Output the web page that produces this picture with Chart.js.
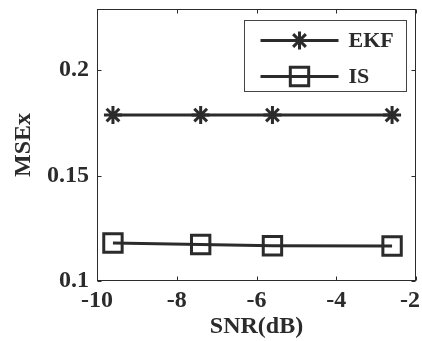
<!DOCTYPE html>
<html>
<head>
<meta charset="utf-8">
<script src="https://cdn.jsdelivr.net/npm/chart.js@4.4.1/dist/chart.umd.min.js"></script>
<style>
  html, body { margin: 0; padding: 0; background: #fff; }
  #wrap { width: 422px; height: 341px; }
</style>
</head>
<body>
<div id="wrap"><canvas id="mseChart"></canvas></div>
<script>
// values
const snr = [-9.6, -7.4, -5.6, -2.6];
const mseEKF = [0.1787, 0.1787, 0.1787, 0.1787];
const mseIS = [0.118, 0.1173, 0.1167, 0.1166];
const seriesLabels = ["EKF", "IS"];
const xTicks = [-10, -8, -6, -4, -2];
const yTicks = [0.1, 0.15, 0.2];

const ink = "#2b2b2b";
const serif = "'Liberation Serif', 'Times New Roman', serif";

function toPoints(xs, ys) {
  return xs.map((x, i) => ({ x: x, y: ys[i] }));
}

function drawMarker(ctx, style, x, y, r) {
  ctx.beginPath();
  if (style === "star") {
    ctx.moveTo(x, y - r); ctx.lineTo(x, y + r);
    ctx.moveTo(x - r, y); ctx.lineTo(x + r, y);
    const d = r * Math.SQRT1_2;
    ctx.moveTo(x - d, y - d); ctx.lineTo(x + d, y + d);
    ctx.moveTo(x - d, y + d); ctx.lineTo(x + d, y - d);
  } else {
    const s = r * Math.SQRT1_2;
    ctx.rect(x - s, y - s, 2 * s, 2 * s);
  }
  ctx.stroke();
}

// fixed axis size, and no extra room reserved for overhanging tick labels
function fixAxis(size, prop) {
  return (scale) => {
    scale[prop] = size;
    scale.paddingTop = 0;
    scale.paddingBottom = 0;
    scale.paddingLeft = 0;
    scale.paddingRight = 0;
  };
}

// box round the axes with inward tick marks on all four sides
const matlabFrame = {
  id: "matlabFrame",
  beforeDatasetsDraw(chart) {
    const { ctx, chartArea: a, scales } = chart;
    const L = Math.round(a.left) + 0.5, R = Math.round(a.right) - 0.5;
    const T = Math.round(a.top) + 0.5, B = Math.round(a.bottom) - 0.5;
    ctx.save();
    ctx.strokeStyle = ink;
    ctx.lineWidth = 1;
    ctx.strokeRect(L, T, R - L, B - T);
    ctx.beginPath();
    xTicks.forEach(v => {
      const px = Math.round(scales.x.getPixelForValue(v)) + 0.5;
      ctx.moveTo(px, B); ctx.lineTo(px, B - 4);
      ctx.moveTo(px, T); ctx.lineTo(px, T + 4);
    });
    yTicks.forEach(v => {
      const py = Math.round(scales.y.getPixelForValue(v)) + 0.5;
      ctx.moveTo(L, py); ctx.lineTo(L + 4, py);
      ctx.moveTo(R, py); ctx.lineTo(R - 4, py);
    });
    ctx.stroke();
    ctx.restore();
  }
};

// legend in the top right corner, line + marker like the original
const boxLegend = {
  id: "boxLegend",
  afterDatasetsDraw(chart) {
    const { ctx, chartArea: a } = chart;
    const w = 162, h = 71;
    const left = Math.round(a.right - 10 - w) + 0.5;
    const top = Math.round(a.top + 11) + 0.5;
    ctx.save();
    ctx.fillStyle = "#fff";
    ctx.fillRect(left, top, w, h);
    ctx.strokeStyle = "#444";
    ctx.lineWidth = 1;
    ctx.strokeRect(left, top, w, h);
    chart.data.datasets.forEach((ds, i) => {
      const y = top + 20 + i * 36;
      ctx.strokeStyle = ds.borderColor;
      ctx.lineWidth = 3;
      ctx.beginPath();
      ctx.moveTo(left + 16, y);
      ctx.lineTo(left + 94, y);
      ctx.stroke();
      drawMarker(ctx, ds.pointStyle, left + 55, y, ds.pointRadius);
      ctx.fillStyle = ink;
      ctx.font = "bold 22px " + serif;
      ctx.textBaseline = "middle";
      ctx.textAlign = "left";
      ctx.fillText(ds.label, left + 104, y + 1);
    });
    ctx.restore();
  }
};

const ctxMse = document.getElementById("mseChart").getContext("2d");
const mseChart = new Chart(ctxMse, {
  type: "line",
  data: {
    datasets: [
      {
        label: seriesLabels[0],
        data: toPoints(snr, mseEKF),
        borderColor: ink,
        borderWidth: 3,
        pointStyle: "star",
        pointRadius: 9,
        pointBorderWidth: 3,
        pointBorderColor: ink,
        pointBackgroundColor: "transparent",
      },
      {
        label: seriesLabels[1],
        data: toPoints(snr, mseIS),
        borderColor: ink,
        borderWidth: 3,
        pointStyle: "rect",
        pointRadius: 13,
        pointBorderWidth: 3,
        pointBorderColor: ink,
        pointBackgroundColor: "transparent",
      },
    ],
  },
  options: {
    responsive: true,
    maintainAspectRatio: false,
    animation: false,
    layout: { autoPadding: false, padding: { top: 9, right: 6, left: 0, bottom: 0 } },
    plugins: {
      legend: { display: false },
      tooltip: { enabled: false },
    },
    scales: {
      x: {
        type: "linear",
        min: -10,
        max: -2,
        afterBuildTicks: (scale) => { scale.ticks = xTicks.map(v => ({ value: v })); },
        afterFit: fixAxis(60, "height"),
        grid: { display: false, drawTicks: false },
        border: { display: false },
        ticks: {
          padding: 5,
          color: ink,
          font: { family: serif, size: 24, weight: "bold" },
          // last label would run off the canvas edge; pad it so it sits inside
          callback: (v) => (v === xTicks[xTicks.length - 1] ? v + "\u2002" : String(v)),
          maxRotation: 0,
        },
        title: {
          display: true,
          text: "SNR(dB)",
          color: ink,
          font: { family: serif, size: 24, weight: "bold" },
          padding: { top: 0, bottom: 0 },
        },
      },
      y: {
        min: 0.1,
        max: 0.229,
        afterBuildTicks: (scale) => { scale.ticks = yTicks.map(v => ({ value: v })); },
        afterFit: fixAxis(97, "width"),
        grid: { display: false, drawTicks: false },
        border: { display: false },
        ticks: {
          padding: 8,
          color: ink,
          font: { family: serif, size: 24, weight: "bold" },
          callback: (v) => String(v),
        },
        title: {
          display: true,
          text: "MSEx",
          color: ink,
          font: { family: serif, size: 24, weight: "bold" },
          padding: { top: 9, bottom: 0 },
        },
      },
    },
  },
  plugins: [matlabFrame, boxLegend],
});
</script>
</body>
</html>
